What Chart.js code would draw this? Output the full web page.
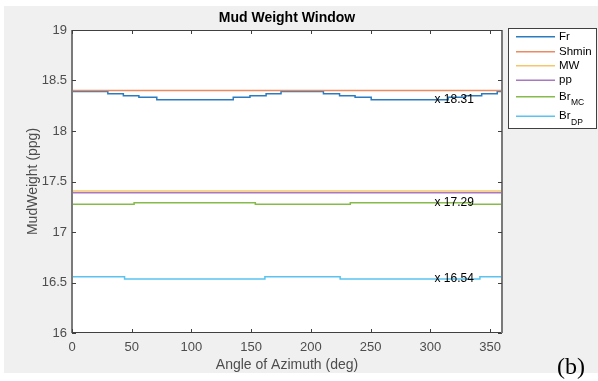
<!DOCTYPE html>
<html>
<head>
<meta charset="utf-8">
<script src="https://cdn.jsdelivr.net/npm/chart.js"></script>
<style>
  html, body { margin: 0; padding: 0; background: #fff; }
</style>
</head>
<body>
<canvas id="myChart" width="598" height="381"></canvas>
<script>
// data (azimuth in deg, mud weight in ppg)
var frAngle = [0, 30, 43, 56, 71, 135, 149, 162.5, 175, 210.5, 224, 237, 250.5, 315, 329, 343, 356, 360];
var frValue = [18.39, 18.37, 18.35, 18.335, 18.31, 18.335, 18.35, 18.37, 18.39, 18.37, 18.35, 18.335, 18.31, 18.335, 18.35, 18.37, 18.39, 18.39];

var flatAngle = [0, 360];
var shminValue = [18.40, 18.40];
var mwValue = [17.405, 17.405];
var ppValue = [17.388, 17.388];

var brMcAngle = [0, 52, 153.5, 233, 333.5, 360];
var brMcValue = [17.274, 17.29, 17.274, 17.29, 17.274, 17.274];

var brDpAngle = [0, 44, 161.5, 224.5, 341.5, 360];
var brDpValue = [16.557, 16.535, 16.557, 16.535, 16.557, 16.557];

var xTicks = [0, 50, 100, 150, 200, 250, 300, 350];
var yTicks = [16, 16.5, 17, 17.5, 18, 18.5, 19];

// data tips shown on the plot
var tipAngle = [306, 306, 306];
var tipValue = [18.31, 17.29, 16.54];
var tipText = ['x 18.31', 'x 17.29', 'x 16.54'];

function pts(xs, ys) {
    return xs.map(function (x, i) { return { x: x, y: ys[i] }; });
}

function series(label, xs, ys, color, order) {
    return {
        label: label,
        data: pts(xs, ys),
        borderColor: color,
        backgroundColor: color,
        borderWidth: 1.5,
        pointRadius: 0,
        stepped: 'before',
        fill: false,
        order: order
    };
}

var ctx = document.getElementById('myChart').getContext('2d');

// gray figure, white axes box, inward ticks, data tips, legend and "(b)"
var matlabLook = {
    id: 'matlabLook',
    beforeDraw: function (chart) {
        var c = chart.ctx, a = chart.chartArea;
        c.save();
        c.fillStyle = '#ffffff';
        c.fillRect(0, 0, chart.width, chart.height);
        c.fillStyle = '#f0f0f0';
        c.fillRect(4, 6, chart.width - 4, 367);
        c.fillStyle = '#ffffff';
        c.fillRect(a.left, a.top, a.right - a.left, a.bottom - a.top);
        c.restore();
    },
    afterDatasetsDraw: function (chart) {
        var c = chart.ctx, a = chart.chartArea;
        var xs = chart.scales.x, ys = chart.scales.y;
        c.save();
        // box
        c.strokeStyle = '#404040';
        c.lineWidth = 1;
        c.strokeRect(a.left + 0.5, a.top + 0.5, a.right - a.left - 1, a.bottom - a.top - 1);
        c.strokeStyle = '#7a7a7a';
        c.lineWidth = 2;
        c.beginPath();
        c.moveTo(a.left, a.top); c.lineTo(a.left, a.bottom);
        c.moveTo(a.right, a.top); c.lineTo(a.right, a.bottom);
        c.stroke();
        // inward ticks
        c.strokeStyle = '#404040';
        c.lineWidth = 1;
        c.beginPath();
        xs.ticks.forEach(function (t) {
            var px = Math.round(xs.getPixelForValue(t.value)) + 0.5;
            c.moveTo(px, a.bottom); c.lineTo(px, a.bottom - 4);
            c.moveTo(px, a.top); c.lineTo(px, a.top + 4);
        });
        ys.ticks.forEach(function (t) {
            var py = Math.round(ys.getPixelForValue(t.value)) + 0.5;
            c.moveTo(a.left, py); c.lineTo(a.left + 4, py);
            c.moveTo(a.right, py); c.lineTo(a.right - 4, py);
        });
        c.stroke();
        // data tips
        c.fillStyle = '#000';
        c.font = '12px "Liberation Sans", Arial, sans-serif';
        c.textAlign = 'left';
        c.textBaseline = 'middle';
        tipText.forEach(function (s, i) {
            var px = xs.getPixelForValue(tipAngle[i]);
            var py = ys.getPixelForValue(tipValue[i]);
            c.fillText(s, px - 3, py);
        });
        c.restore();
    },
    afterDraw: function (chart) {
        var c = chart.ctx;
        c.save();
        // legend box
        c.fillStyle = '#ffffff';
        c.fillRect(508, 28, 88, 100);
        c.strokeStyle = '#404040';
        c.lineWidth = 1;
        c.strokeRect(508.5, 28.5, 88, 100);
        var rowY = [36.7, 51.7, 65.7, 80.3, 96.7, 116.3];
        chart.data.datasets.forEach(function (ds, i) {
            var y = rowY[i];
            c.strokeStyle = ds.borderColor;
            c.lineWidth = 1.5;
            c.beginPath();
            c.moveTo(516, y); c.lineTo(555, y);
            c.stroke();
            var parts = ds.label.split('_');
            c.fillStyle = '#000';
            c.textAlign = 'left';
            c.textBaseline = 'middle';
            c.font = '11.5px "Liberation Sans", Arial, sans-serif';
            c.fillText(parts[0], 559, y);
            if (parts[1]) {
                var w = c.measureText(parts[0]).width;
                c.font = '8.5px "Liberation Sans", Arial, sans-serif';
                c.fillText(parts[1], 559 + w + 0.5, y + 6);
            }
        });
        // panel tag
        c.fillStyle = '#000';
        c.font = '24px "Liberation Serif", "DejaVu Serif", serif';
        c.textAlign = 'left';
        c.textBaseline = 'alphabetic';
        c.fillText('(b)', 557, 374);
        c.restore();
    }
};

var chart = new Chart(ctx, {
    type: 'line',
    data: {
        datasets: [
            series('Fr', frAngle, frValue, '#2a7cc0', 6),
            series('Shmin', flatAngle, shminValue, '#ec8a62', 5),
            series('MW', flatAngle, mwValue, '#f5c66a', 4),
            series('pp', flatAngle, ppValue, '#a878c0', 3),
            series('Br_MC', brMcAngle, brMcValue, '#86bb4c', 2),
            series('Br_DP', brDpAngle, brDpValue, '#5ac3f0', 1)
        ]
    },
    options: {
        responsive: false,
        animation: false,
        layout: { padding: { left: 0, right: 96, top: 0, bottom: 0 } },
        plugins: {
            legend: { display: false },
            tooltip: { enabled: false },
            title: {
                display: true,
                text: 'Mud Weight Window',
                fullSize: false,
                color: '#000',
                font: { family: '"Liberation Sans", Arial, sans-serif', size: 14, weight: 'bold' },
                padding: { top: 10, bottom: 3.2 }
            }
        },
        scales: {
            x: {
                type: 'linear',
                min: 0,
                max: 360,
                grid: { display: false, drawTicks: false },
                border: { display: false },
                afterBuildTicks: function (scale) {
                    scale.ticks = xTicks.map(function (v) { return { value: v }; });
                },
                afterFit: function (scale) { scale.height = 48; },
                ticks: {
                    padding: 7,
                    color: '#4d4d4d',
                    maxRotation: 0,
                    font: { family: '"Liberation Sans", Arial, sans-serif', size: 13 },
                    callback: function (v) { return String(v); }
                },
                title: {
                    display: true,
                    text: 'Angle of Azimuth (deg)',
                    color: '#4d4d4d',
                    font: { family: '"Liberation Sans", Arial, sans-serif', size: 14 },
                    padding: { top: 0, bottom: 7.6 }
                }
            },
            y: {
                type: 'linear',
                min: 16,
                max: 19,
                grid: { display: false, drawTicks: false },
                border: { display: false },
                afterBuildTicks: function (scale) {
                    scale.ticks = yTicks.map(function (v) { return { value: v }; });
                },
                afterFit: function (scale) { scale.width = 72; },
                ticks: {
                    padding: 5,
                    color: '#4d4d4d',
                    font: { family: '"Liberation Sans", Arial, sans-serif', size: 13 },
                    callback: function (v) { return String(v); }
                },
                title: {
                    display: true,
                    text: 'MudWeight (ppg)',
                    color: '#4d4d4d',
                    font: { family: '"Liberation Sans", Arial, sans-serif', size: 14 },
                    padding: { top: 24.6, bottom: 0 }
                }
            }
        }
    },
    plugins: [matlabLook]
});
</script>
</body>
</html>
